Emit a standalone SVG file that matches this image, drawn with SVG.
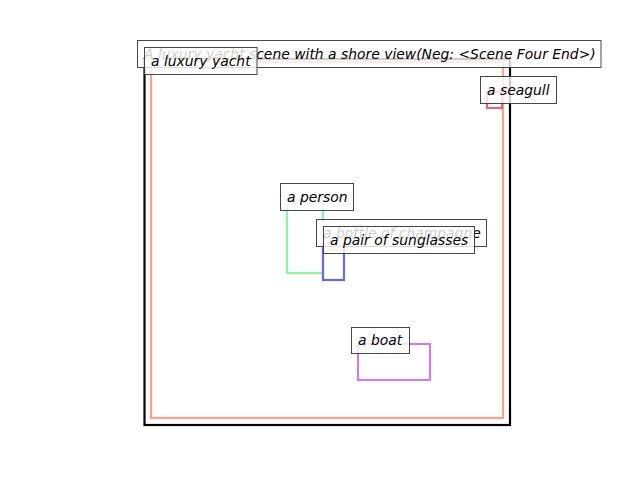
<svg xmlns="http://www.w3.org/2000/svg" width="640" height="480" viewBox="0 0 640 480">
<style>
.r{fill:none;stroke-width:2.2}
.lb{fill:#fff;fill-opacity:0.8;stroke:#333;stroke-opacity:0.9;stroke-width:1}
.t{font-family:"DejaVu Sans",sans-serif;font-style:oblique;font-size:13.9px;fill:#000}
</style>
<rect width="640" height="480" fill="#fff"/>
<g id="connectors"></g>
<g id="scene"><rect class="r" x="144.5" y="59" width="365.5" height="366" stroke="#000"/></g>
<g id="yacht-box"><rect class="r" x="151" y="62" width="352" height="356" stroke="#ffa08a"/></g>
<g id="seagull-box"><rect class="r" x="487" y="92" width="15" height="16" stroke="#d46a7e"/></g>
<g id="person-box"><rect class="r" x="287" y="200" width="36" height="73" stroke="#88f5a8"/></g>
<g id="champagne-box"><rect class="r" x="330" y="238" width="14" height="12" stroke="#ffc07a"/></g>
<g id="sunglasses-box"><rect class="r" x="323" y="243" width="21" height="37" stroke="#6868e8"/></g>
<g id="boat-box"><rect class="r" x="358" y="344" width="72" height="36" stroke="#cc80e6"/></g>
<g id="title"><rect class="lb" x="137.5" y="40.5" width="463.5" height="27"/><text class="t" x="144" y="58.5">A luxury yacht scene with a shore view(Neg: &lt;Scene Four End&gt;)</text></g>
<g id="yacht"><rect class="lb" x="144.5" y="47.5" width="112.5" height="27"/><text class="t" x="151" y="65.5">a luxury yacht</text></g>
<g id="seagull"><rect class="lb" x="480.5" y="76.5" width="76" height="27"/><text class="t" x="487" y="94.5">a seagull</text></g>
<g id="person"><rect class="lb" x="280.5" y="183.5" width="73" height="27"/><text class="t" x="287" y="201.5">a person</text></g>
<g id="champagne"><rect class="lb" x="316.5" y="219.5" width="170" height="27"/><text class="t" x="323" y="237.5">a bottle of champagne</text></g>
<g id="sunglasses"><rect class="lb" x="323.5" y="226.5" width="151" height="27"/><text class="t" x="330" y="244.5">a pair of sunglasses</text></g>
<g id="boat"><rect class="lb" x="351.5" y="327.5" width="58" height="26"/><text class="t" x="358" y="345">a boat</text></g>
</svg>
